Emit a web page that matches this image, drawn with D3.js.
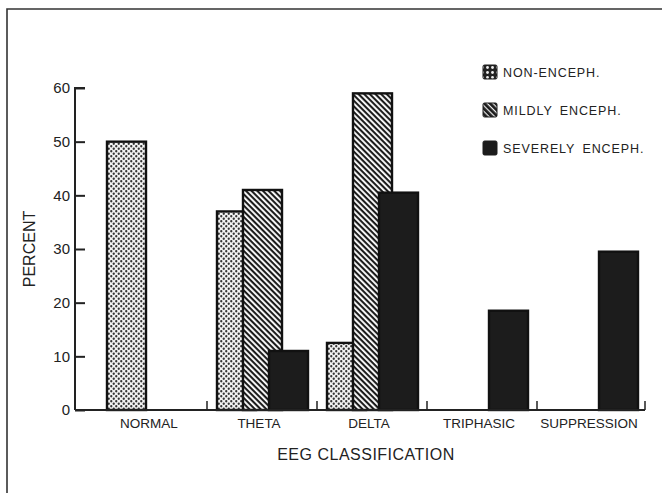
<!DOCTYPE html>
<html>
<head>
<meta charset="utf-8">
<script src="https://cdn.jsdelivr.net/npm/d3@7"></script>
<style>
  html, body { margin: 0; padding: 0; background: #fff; }
  svg { display: block; font-family: "Liberation Sans", "DejaVu Sans", sans-serif; }
  text { fill: #222; }
</style>
</head>
<body>
<div id="chart"></div>
<script>
"use strict";

// ─── Data ───────────────────────────────────────────────────────────────────
const categories = ["NORMAL", "THETA", "DELTA", "TRIPHASIC", "SUPPRESSION"];
const series     = ["NON-ENCEPH.", "MILDLY ENCEPH.", "SEVERELY ENCEPH."];
const nonEnceph  = [50, 37, 12.5, 0, 0];
const mildly     = [0, 41, 59, 0, 0];
const severely   = [0, 11, 40.5, 18.5, 29.5];
const yTicks     = [0, 10, 20, 30, 40, 50, 60];

const values = [nonEnceph, mildly, severely];
const fills  = ["url(#dots)", "url(#hatch)", "#1c1c1c"];
const keyFills = ["url(#dotsKey)", "url(#hatchKey)", "#1c1c1c"];

const W = 662, H = 493;

const svg = d3.select("#chart").append("svg")
  .attr("width", W)
  .attr("height", H);

// ── Patterns ─────────────────────────────────────────────────────────────────
const defs = svg.append("defs");

const dots = defs.append("pattern")
  .attr("id", "dots").attr("patternUnits", "userSpaceOnUse")
  .attr("width", 5).attr("height", 5);
dots.append("rect").attr("width", 5).attr("height", 5).attr("fill", "#f2f2f2");
dots.append("circle").attr("cx", 1.25).attr("cy", 1.25).attr("r", 1.15).attr("fill", "#333");
dots.append("circle").attr("cx", 3.75).attr("cy", 3.75).attr("r", 1.15).attr("fill", "#333");

const dotsKey = defs.append("pattern")
  .attr("id", "dotsKey").attr("patternUnits", "userSpaceOnUse")
  .attr("width", 5).attr("height", 5);
dotsKey.append("rect").attr("width", 5).attr("height", 5).attr("fill", "#222");
dotsKey.append("circle").attr("cx", 2.5).attr("cy", 2.5).attr("r", 1.4).attr("fill", "#eee");

// lines run top-left → bottom-right ("\\\\")
const hatch = defs.append("pattern")
  .attr("id", "hatch").attr("patternUnits", "userSpaceOnUse")
  .attr("width", 4).attr("height", 4)
  .attr("patternTransform", "rotate(45)");
hatch.append("rect").attr("width", 4).attr("height", 4).attr("fill", "#fff");
hatch.append("rect").attr("width", 4).attr("height", 2.1).attr("fill", "#1c1c1c");

const hatchKey = defs.append("pattern")
  .attr("id", "hatchKey").attr("patternUnits", "userSpaceOnUse")
  .attr("width", 4).attr("height", 4)
  .attr("patternTransform", "rotate(45)");
hatchKey.append("rect").attr("width", 4).attr("height", 4).attr("fill", "#1c1c1c");
hatchKey.append("rect").attr("width", 4).attr("height", 1.2).attr("fill", "#eee");

// ── Frame (top + left only, like the scanned page) ───────────────────────────
svg.append("path")
  .attr("d", `M7,${H} L7,9 L${W},9`)
  .attr("fill", "none")
  .attr("stroke", "#333")
  .attr("stroke-width", 1.6);

// ── Scales ───────────────────────────────────────────────────────────────────
const axisX = 75;
const x = d3.scaleBand().domain(categories).range([97, 647]).paddingInner(0);
const xSub = d3.scalePoint().domain(series).range([10, 62]);
const barW = 39;
const y = d3.scaleLinear().domain([0, 60]).range([410, 88]);

// ── Bars ─────────────────────────────────────────────────────────────────────
const bars = svg.append("g");
categories.forEach((cat, ci) => {
  series.forEach((s, si) => {
    const v = values[si][ci];
    if (!v) return;
    bars.append("rect")
      .attr("x", x(cat) + xSub(s))
      .attr("y", y(v))
      .attr("width", barW)
      .attr("height", y(0) - y(v))
      .attr("fill", fills[si])
      .attr("stroke", "#111")
      .attr("stroke-width", 2.4);
  });
});

// ── Y axis ───────────────────────────────────────────────────────────────────
const yAxis = svg.append("g").attr("transform", `translate(${axisX},0)`)
  .call(d3.axisRight(y).tickValues(yTicks).tickSize(10).tickFormat(""));
yAxis.select(".domain").attr("stroke", "#222").attr("stroke-width", 2)
  .attr("d", `M10,${y(60)}H0V${y(0)}`);
yAxis.selectAll(".tick line").attr("stroke", "#222").attr("stroke-width", 2);

svg.append("g").selectAll("text")
  .data(yTicks)
  .join("text")
  .attr("x", axisX - 5)
  .attr("y", (d) => y(d))
  .attr("dy", "0.36em")
  .attr("text-anchor", "end")
  .attr("font-size", 15)
  .text((d) => d);

// ── X axis: baseline + group-boundary ticks ──────────────────────────────────
const bounds = categories.slice(1).map((c) => x(c)).concat([x.range()[1] - 2]);
svg.append("line")
  .attr("x1", axisX).attr("x2", bounds[bounds.length - 1])
  .attr("y1", y(0)).attr("y2", y(0))
  .attr("stroke", "#222").attr("stroke-width", 2);
svg.append("g").selectAll("line")
  .data(bounds)
  .join("line")
  .attr("x1", (d) => d).attr("x2", (d) => d)
  .attr("y1", y(0)).attr("y2", y(0) - 9)
  .attr("stroke", "#222").attr("stroke-width", 1.5);

svg.append("g").selectAll("text")
  .data(categories)
  .join("text")
  .attr("x", (d) => x(d) + x.bandwidth() / 2 - 3)
  .attr("y", 428)
  .attr("text-anchor", "middle")
  .attr("font-size", 13.5)
  .text((d) => d);

svg.append("text")
  .attr("x", 366).attr("y", 460)
  .attr("text-anchor", "middle")
  .attr("font-size", 16)
  .style("letter-spacing", "0.5px")
  .text("EEG CLASSIFICATION");

svg.append("text")
  .attr("transform", `translate(35,${y(30)}) rotate(-90)`)
  .attr("text-anchor", "middle")
  .attr("font-size", 16)
  .text("PERCENT");

// ── Legend ───────────────────────────────────────────────────────────────────
const legendY = d3.scalePoint().domain(series).range([72, 148]);
const legend = svg.append("g");
series.forEach((s, i) => {
  legend.append("rect")
    .attr("x", 483).attr("y", legendY(s) - 7)
    .attr("width", 14).attr("height", 14)
    .attr("rx", 1.5)
    .attr("fill", keyFills[i])
    .attr("stroke", "#1c1c1c").attr("stroke-width", 1);
  legend.append("text")
    .attr("x", 503).attr("y", legendY(s))
    .attr("dy", "0.36em")
    .attr("font-size", 12.5)
    .style("letter-spacing", "0.9px")
    .style("word-spacing", "3px")
    .text(s);
});
</script>
</body>
</html>
